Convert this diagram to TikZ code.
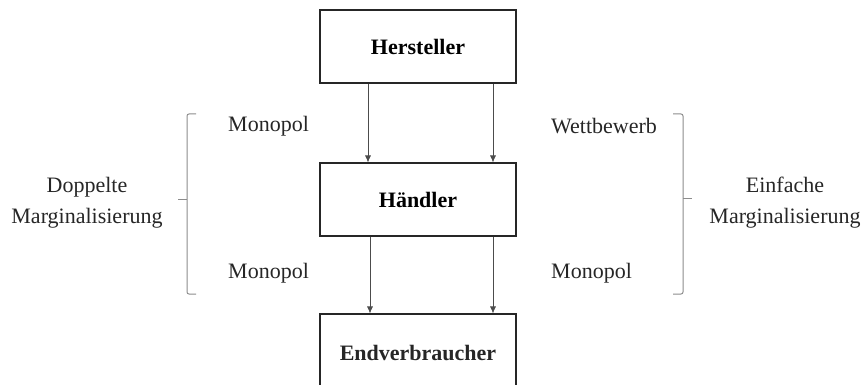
\documentclass[tikz,border=0pt]{standalone}
\usepackage{fontspec}
\setmainfont{Liberation Serif}
\usetikzlibrary{arrows.meta}
\begin{document}
\begin{tikzpicture}[x=1pt,y=-1pt,
  box/.style={draw=black!85,line width=1.1pt,rectangle,minimum width=196pt,minimum height=73pt,inner sep=0pt,font=\fontsize{22}{26}\selectfont\bfseries},
  conn/.style={draw=black!70,line width=0.7pt,-{Latex[length=7pt,width=6pt]}},
  lbl/.style={font=\fontsize{22}{26}\selectfont,inner sep=0pt,text=black!85},
  side/.style={font=\fontsize{22}{31}\selectfont,inner sep=0pt,align=center,text=black!85},
  brace/.style={draw=black!45,line width=1pt,rounded corners=2pt}]
\clip (0,0) rectangle (863,385);
\node[box] (h) at (418,46.5) {Hersteller};
\node[box] (d) at (418,199.5) {Händler};
\node[box,minimum height=100pt] (e) at (418,364) {};
\node[lbl,font=\fontsize{22}{26}\selectfont\bfseries] (et) at (418,353) {Endverbraucher};
\draw[conn] ([xshift=-50pt]h.south) -- ([xshift=-50pt]d.north);
\draw[conn] ([xshift=75pt]h.south) -- ([xshift=75pt]d.north);
\draw[conn] ([xshift=-48pt]d.south) -- ([xshift=-48pt]e.north);
\draw[conn] ([xshift=75pt]d.south) -- ([xshift=75pt]e.north);
\node[lbl,anchor=west] (m1) at (228,126) {Monopol};
\node[lbl,anchor=west] (w1) at (551,126) {Wettbewerb};
\node[lbl,anchor=west] (m2) at (228,273) {Monopol};
\node[lbl,anchor=west] (m3) at (551,273) {Monopol};
\node[side] (dm) at (87,203) {Doppelte\\Marginalisierung};
\node[side] (em) at (785,203) {Einfache\\Marginalisierung};
\coordinate (lb) at (187,200);
\coordinate (rb) at (683,199);
\draw[brace] (196,114) -- (187,114) -- (187,294) -- (196,294);
\draw[brace] (lb) -- (178,200);
\draw[brace] (673,114) -- (683,114) -- (683,294) -- (673,294);
\draw[brace] (rb) -- (692,199);
\end{tikzpicture}
\end{document}
